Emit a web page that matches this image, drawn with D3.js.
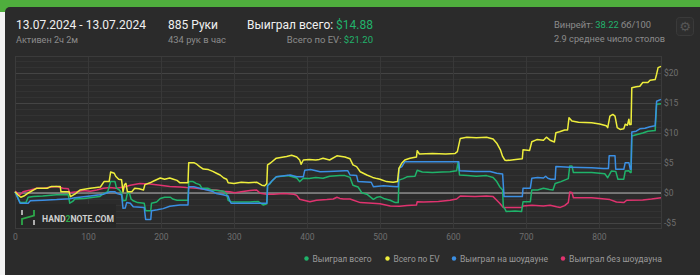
<!DOCTYPE html>
<html>
<head>
<meta charset="utf-8">
<script src="https://cdn.jsdelivr.net/npm/d3@7"></script>
<style>
  html, body { margin: 0; padding: 0; background: #f2f2f2; }
  svg { display: block; font-family: Roboto, "Noto Sans", sans-serif; }
</style>
</head>
<body>
<svg id="chart"></svg>
<script>
// Chart data: [hand, dollars]
const wonTotal = [[0,0.2],[4,-0.8],[7,-1.6],[15,-1.6],[18,-0.7],[25,-0.6],[38,-0.5],[57,-0.3],[73,-0.3],[75,-1.7],[79,-1.4],[82,-1.0],[95,-0.9],[108,-0.7],[116,-0.6],[121,-0.1],[127,0.2],[131,1.9],[137,1.9],[139,0.8],[143,0.5],[146,0.0],[148,-1.3],[152,-1.2],[154,0.0],[157,-0.1],[159,-1.0],[162,-1.3],[168,-1.6],[177,-1.7],[179,-2.95],[186,-2.95],[187,-1.7],[194,-1.5],[199,-0.9],[205,-0.7],[213,-0.7],[216,-1.0],[222,-1.2],[237,-1.2],[238,1.9],[244,1.9],[248,1.6],[253,1.4],[256,0.8],[264,0.8],[269,0.5],[277,0.4],[286,0.3],[290,-0.2],[292,-1.2],[296,-1.45],[310,-1.5],[322,-1.5],[333,-1.4],[338,-1.8],[340,-2.0],[345,-1.8],[346,1.3],[349,1.5],[352,2.0],[358,2.7],[366,2.8],[374,2.9],[380,2.7],[386,2.5],[390,1.9],[395,2.45],[403,2.4],[412,2.6],[422,2.45],[431,2.8],[445,2.9],[452,2.9],[459,2.6],[463,1.3],[470,1.0],[475,0.05],[482,-0.2],[491,-1.05],[496,-0.7],[500,-0.6],[505,-0.9],[514,-1.2],[521,-1.6],[525,-1.6],[526,2.15],[532,2.4],[537,2.7],[548,2.8],[551,3.8],[558,3.5],[572,3.4],[585,3.5],[596,3.55],[605,3.7],[607,5.2],[609,3.0],[620,2.9],[632,2.8],[646,2.9],[655,2.6],[660,1.9],[664,1.05],[668,0.5],[669,-2.3],[671,-2.6],[673,-3.1],[685,-3.0],[694,-3.1],[696,-1.45],[706,-1.45],[708,0.5],[716,0.5],[724,0.8],[732,0.6],[737,0.5],[740,1.6],[748,1.9],[752,2.1],[758,2.4],[760,4.5],[763,4.5],[765,3.4],[790,3.4],[808,3.2],[812,2.55],[817,3.65],[823,3.6],[826,2.3],[834,2.3],[836,3.65],[841,3.7],[843,3.4],[844,3.4],[845,9.5],[851,9.7],[860,10.0],[867,10.3],[877,10.4],[879,14.8],[885,14.88]];

const evTotal = [[0,0.2],[4,-0.3],[8,-0.7],[12,-0.5],[18,0.0],[30,0.8],[44,0.8],[50,1.1],[62,1.1],[63,0.2],[74,0.2],[76,-0.6],[82,-0.2],[89,0.5],[103,0.8],[117,1.0],[122,1.9],[129,1.9],[131,3.5],[136,3.3],[138,2.8],[142,2.3],[146,2.2],[148,0.2],[150,1.4],[152,1.6],[154,0.2],[160,0.2],[164,0.8],[170,0.7],[176,0.5],[178,1.4],[185,1.7],[190,2.0],[199,2.5],[205,2.3],[212,2.5],[217,2.3],[222,2.1],[226,1.7],[237,1.7],[238,5.05],[245,5.05],[249,4.8],[253,4.4],[258,4.0],[265,3.9],[271,3.6],[276,3.3],[281,3.0],[286,2.5],[290,2.3],[292,1.7],[300,1.6],[310,1.8],[320,1.7],[331,1.8],[338,1.3],[342,1.2],[345,1.6],[346,4.7],[350,5.0],[358,5.8],[372,6.1],[379,6.3],[386,6.0],[390,5.5],[392,4.8],[395,5.5],[403,5.6],[412,5.5],[417,5.6],[422,5.8],[431,5.5],[441,6.2],[452,6.0],[459,5.7],[463,4.7],[468,4.4],[473,3.55],[482,3.0],[490,2.6],[496,2.4],[500,2.3],[509,1.9],[518,1.8],[524,1.9],[526,4.1],[530,5.0],[534,5.5],[541,5.8],[550,6.0],[551,7.05],[554,6.5],[572,6.6],[590,6.5],[603,6.6],[606,6.9],[610,9.1],[619,9.3],[632,9.2],[646,9.3],[655,9.0],[660,8.3],[665,7.2],[668,6.1],[671,5.5],[673,5.4],[686,5.6],[695,5.7],[696,7.2],[705,7.1],[708,8.55],[715,8.9],[724,8.8],[728,9.3],[733,8.8],[739,8.5],[741,10.05],[746,10.2],[753,10.5],[757,10.5],[759,12.55],[763,12.0],[772,11.8],[790,11.7],[801,11.5],[810,11.2],[812,10.9],[815,12.8],[819,13.1],[822,12.8],[825,10.9],[829,10.6],[834,10.7],[836,11.45],[839,11.3],[841,12.3],[842,11.4],[844,11.4],[845,17.55],[851,17.7],[856,17.8],[860,18.4],[867,18.4],[870,18.8],[877,18.9],[879,19.8],[881,20.9],[885,21.1]];

const wonShowdown = [[0,0.2],[7,-1.7],[18,-1.7],[21,-1.3],[38,-1.2],[57,-1.1],[75,-0.95],[82,-0.8],[103,-0.5],[116,-0.3],[121,-0.2],[130,0.2],[137,0.2],[140,-0.1],[146,-0.3],[148,-2.55],[151,-2.5],[153,-1.6],[158,-1.7],[162,-2.3],[177,-2.4],[179,-4.4],[186,-4.4],[187,-2.95],[195,-2.8],[203,-2.6],[212,-2.2],[226,-2.0],[237,-2.0],[238,1.05],[245,1.05],[253,0.8],[263,0.5],[270,0.3],[276,-0.1],[285,-0.3],[292,-0.5],[294,-1.2],[296,-1.7],[345,-1.7],[346,1.2],[352,2.0],[358,2.7],[366,2.85],[377,3.0],[386,2.7],[395,2.7],[397,3.8],[405,3.9],[418,3.55],[430,3.6],[452,3.7],[456,3.7],[459,3.0],[468,2.9],[470,1.9],[488,1.8],[491,1.05],[505,1.2],[518,1.1],[525,1.05],[526,4.1],[530,4.4],[534,5.2],[608,5.2],[609,3.7],[630,3.6],[651,3.6],[660,3.3],[668,3.15],[670,-0.6],[695,-0.6],[696,0.8],[706,0.8],[708,2.45],[716,2.6],[724,2.5],[727,2.8],[730,2.45],[734,2.3],[740,2.3],[741,4.4],[760,4.3],[790,4.2],[806,4.1],[813,4.1],[814,6.2],[822,6.2],[823,3.95],[834,3.95],[836,5.05],[841,5.05],[843,3.95],[844,3.95],[845,10.15],[851,10.3],[856,10.7],[863,10.8],[870,11.05],[877,11.2],[879,15.3],[885,15.6]];

const wonNoShowdown = [[0,0.3],[7,-0.3],[11,0.2],[21,0.5],[30,0.8],[39,0.8],[48,0.95],[57,1.1],[66,0.8],[73,0.7],[75,0.05],[84,0.2],[94,0.4],[103,0.3],[112,0.5],[121,0.8],[130,0.9],[139,0.8],[151,1.05],[158,1.3],[171,1.6],[185,1.5],[199,1.3],[212,1.1],[226,1.0],[235,0.9],[249,0.8],[262,0.6],[276,0.5],[285,0.3],[294,0.2],[301,0.05],[310,0.2],[322,0.4],[331,0.5],[336,-0.05],[345,-0.2],[354,-0.2],[368,-0.1],[382,-0.2],[386,-0.4],[390,-1.05],[404,-1.45],[413,-1.2],[427,-1.1],[436,-1.0],[441,-0.7],[445,-0.9],[450,-1.0],[459,-1.0],[473,-1.6],[490,-1.7],[500,-1.8],[514,-2.15],[527,-2.2],[537,-2.1],[550,-2.0],[551,-1.45],[560,-1.5],[580,-1.4],[596,-1.2],[605,-1.0],[610,-0.5],[630,-0.6],[646,-0.5],[655,-0.6],[660,-1.2],[664,-1.7],[669,-2.4],[695,-2.4],[696,-2.15],[708,-2.05],[724,-2.15],[733,-2.05],[742,-2.3],[747,-2.4],[753,-2.1],[758,-1.6],[760,0.15],[763,0.1],[765,-0.8],[790,-0.8],[801,-0.9],[815,-1.1],[824,-1.5],[834,-1.6],[838,-1.2],[860,-1.15],[872,-1.0],[885,-0.8]];

const seriesNames = ["Выиграл всего", "Всего по EV", "Выиграл на шоудауне", "Выиграл без шоудауна"];
const seriesColors = ["#1fb36a", "#eeee3c", "#3b8fe3", "#e0336f"];
const seriesData = [wonTotal, evTotal, wonShowdown, wonNoShowdown];
const drawOrder = [3, 0, 2, 1]; // pink underneath, yellow on top

const xTicks = [0, 100, 200, 300, 400, 500, 600, 700, 800];
const yTicks = [-5, 0, 5, 10, 15, 20];

const width = 700, height = 275;
const plot = { left: 15, right: 661, top: 56, bottom: 228 };

const svg = d3.select("#chart")
    .attr("width", width)
    .attr("height", height);

// window chrome: green strip on top, light strip left, dark panel
svg.append("rect").attr("x", 0).attr("y", 0).attr("width", width).attr("height", height).attr("fill", "#f2f2f2");
svg.append("rect").attr("x", 0).attr("y", 0).attr("width", width).attr("height", 12).attr("fill", "#4fae3d");
svg.append("rect").attr("x", 5).attr("y", 7).attr("width", width).attr("height", height)
    .attr("rx", 5).attr("fill", "#2b2b2b");

// header texts (width = measured width in the screenshot)
const header = svg.append("g");
function addText(x, y, size, color, parts, anchor, width) {
    const t = header.append("text")
        .attr("x", x).attr("y", y)
        .attr("font-size", size)
        .attr("text-anchor", anchor || "start");
    if (width) t.attr("textLength", width).attr("lengthAdjust", "spacingAndGlyphs");
    parts.forEach(p => t.append("tspan").attr("fill", p[1] || color).text(p[0]));
    return t;
}
addText(16, 29, 12, "#f0f0f0", [["13.07.2024 - 13.07.2024"]], "start", 130);
addText(16, 43, 9.5, "#8c8c8c", [["Активен 2ч 2м"]], "start", 62);
addText(168, 29, 12, "#f0f0f0", [["885 Руки"]], "start", 50);
addText(168, 43, 9.5, "#8c8c8c", [["434 рук в час"]], "start", 58);
addText(373, 29, 12, "#f0f0f0", [["Выиграл всего: "], ["$14.88", "#22b36b"]], "end");
addText(373, 43, 9.5, "#8c8c8c", [["Всего по EV: "], ["$21.20", "#22b36b"]], "end");
addText(554, 28, 9.5, "#8c8c8c", [["Винрейт: "], ["38.22", "#22b36b"], [" бб/100"]], "start", 97);
addText(554, 42, 9.5, "#8c8c8c", [["2.9 среднее число столов"]], "start", 111);

// settings button
svg.append("rect").attr("x", 676.5).attr("y", 17.5).attr("width", 17).attr("height", 18)
    .attr("rx", 3).attr("fill", "#2e2e2e").attr("stroke", "#3a3a3a");
svg.append("text").attr("x", 685).attr("y", 31).attr("text-anchor", "middle")
    .attr("font-family", "DejaVu Sans").attr("font-size", 13).attr("fill", "#565656").text("\u2699");

// scales
const xScale = d3.scaleLinear().domain([0, 885]).range([plot.left, plot.right]);
const yScale = d3.scaleLinear().domain([-5.83, 22.83]).range([plot.bottom, plot.top]);

// grid
const grid = svg.append("g");
grid.selectAll(".minor")
    .data(d3.range(-5, 23))
    .enter().append("line")
    .attr("x1", plot.left).attr("x2", plot.right)
    .attr("y1", d => Math.round(yScale(d)) + 0.5).attr("y2", d => Math.round(yScale(d)) + 0.5)
    .attr("stroke", d => d % 5 === 0 ? "#444" : "#333");
grid.selectAll(".vline")
    .data(xTicks.slice(1))
    .enter().append("line")
    .attr("y1", plot.top).attr("y2", plot.bottom)
    .attr("x1", d => Math.round(xScale(d)) + 0.5).attr("x2", d => Math.round(xScale(d)) + 0.5)
    .attr("stroke", "#383838");
grid.append("rect")
    .attr("x", plot.left + 0.5).attr("y", plot.top + 0.5)
    .attr("width", plot.right - plot.left).attr("height", plot.bottom - plot.top)
    .attr("fill", "none").attr("stroke", "#3b3b3b");

// watermark
const wm = svg.append("g");
wm.append("rect").attr("x", plot.left + 1).attr("y", 204).attr("width", 100).attr("height", plot.bottom - 204)
    .attr("fill", "#272727");
wm.append("line").attr("x1", 22).attr("x2", 22).attr("y1", 210).attr("y2", 215)
    .attr("stroke", "#bdbdbd").attr("stroke-width", 1.8);
wm.append("line").attr("x1", 34).attr("x2", 34).attr("y1", 220).attr("y2", 225)
    .attr("stroke", "#bdbdbd").attr("stroke-width", 1.8);
wm.append("path").attr("d", "M22,225 L22,219 L34,215.5 L34,210")
    .attr("fill", "none").attr("stroke", "#2da84a").attr("stroke-width", 1.8);
// brand text in three pieces, placed one after another
let wmX = 42;
[["HAND", "#cfcfcf"], ["2", "#2da84a"], ["NOTE.COM", "#cfcfcf"]].forEach(p => {
    const t = wm.append("text").attr("x", wmX).attr("y", 222)
        .attr("font-size", 8.6).attr("font-weight", "bold").attr("fill", p[1]).text(p[0]);
    wmX += t.node().getComputedTextLength();
});

// zero line
svg.append("line")
    .attr("x1", plot.left).attr("x2", plot.right)
    .attr("y1", yScale(0)).attr("y2", yScale(0))
    .attr("stroke", "#8a8a8a").attr("stroke-width", 1.3);

// axes
const xAxis = svg.append("g")
    .attr("transform", `translate(0,${plot.bottom})`)
    .call(d3.axisBottom(xScale).tickValues(xTicks).tickSize(0).tickPadding(6));
const yAxis = svg.append("g")
    .attr("transform", `translate(${plot.right},0)`)
    .call(d3.axisRight(yScale).tickValues(yTicks).tickSize(0).tickPadding(3)
        .tickFormat(d => d < 0 ? "-$" + Math.abs(d) : "$" + d));
[xAxis, yAxis].forEach(a => {
    a.select(".domain").remove();
    a.selectAll("text").attr("fill", "#6f6f6f").attr("font-size", 8.5)
        .attr("font-family", "Roboto, sans-serif");
});

// series lines
const line = d3.line().x(d => xScale(d[0])).y(d => yScale(d[1]));
svg.append("g").selectAll("path")
    .data(drawOrder)
    .enter().append("path")
    .attr("d", i => line(seriesData[i]))
    .attr("fill", "none")
    .attr("stroke", i => seriesColors[i])
    .attr("stroke-width", 1.5)
    .attr("stroke-linejoin", "round");

// legend
const legendX = [306.5, 387.5, 454, 563];
const legendW = [59, 46, 88, 93];
const legend = svg.append("g").selectAll("g")
    .data(seriesNames)
    .enter().append("g")
    .attr("transform", (d, i) => `translate(${legendX[i]},258.5)`);
legend.append("circle").attr("r", 2.2).attr("fill", (d, i) => seriesColors[i]);
legend.append("text").attr("x", 6).attr("dy", "0.35em")
    .attr("font-size", 9.5).attr("fill", "#9a9a9a")
    .attr("textLength", (d, i) => legendW[i]).attr("lengthAdjust", "spacingAndGlyphs")
    .text(d => d);
</script>
</body>
</html>
